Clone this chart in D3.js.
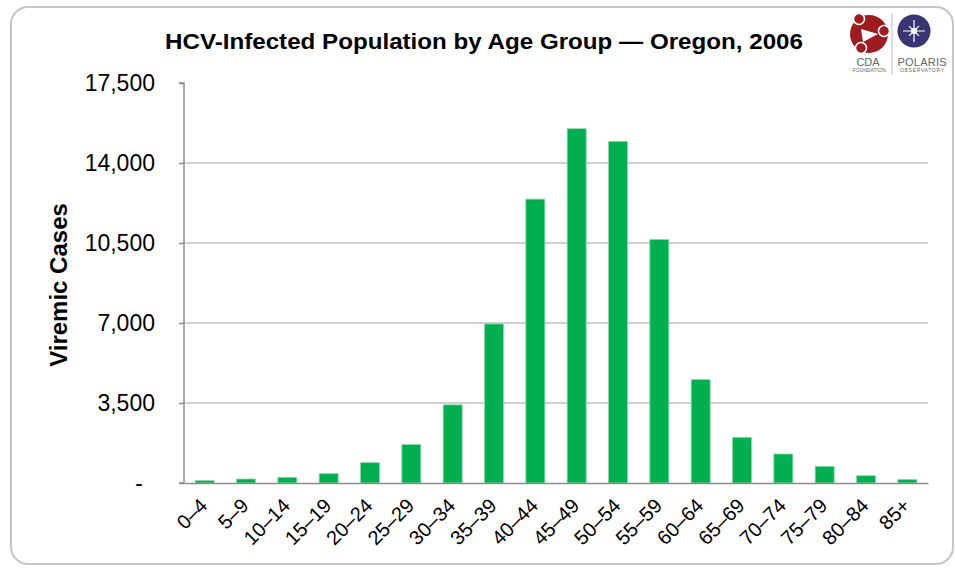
<!DOCTYPE html>
<html>
<head>
<meta charset="utf-8">
<script src="https://cdn.jsdelivr.net/npm/d3@7"></script>
<style>
  body { margin: 0; background: #fff; }
  svg { display: block; font-family: "Liberation Sans", Arial, sans-serif; }
</style>
</head>
<body>
<div class="chart"></div>
<script>

var ageGroups = ["0\u20134", "5\u20139", "10\u201314", "15\u201319", "20\u201324", "25\u201329", "30\u201334", "35\u201339",
                 "40\u201344", "45\u201349", "50\u201354", "55\u201359", "60\u201364", "65\u201369", "70\u201374", "75\u201379",
                 "80\u201384", "85+"];
var viremicCases = [110, 175, 250, 410, 890, 1680, 3420, 6960, 12420, 15500, 14950, 10660, 4530, 2000, 1270, 730, 320, 160];
var yTicks = [0, 3500, 7000, 10500, 14000, 17500];

var width = 955, height = 568;
var margin = {top: 83, right: 27, bottom: 85, left: 184};

var svg = d3.select(".chart")
  .append("svg")
    .attr("width", width)
    .attr("height", height);

// frame
svg.append("rect")
  .attr("x", 11).attr("y", 7)
  .attr("width", 942).attr("height", 557)
  .attr("rx", 17).attr("ry", 17)
  .style("fill", "#fff")
  .style("stroke", "#c6c6c6")
  .style("stroke-width", 2);

var x = d3.scaleBand()
  .domain(ageGroups)
  .range([margin.left, width - margin.right])
  .paddingInner(0.54)
  .paddingOuter(0.27);

var y = d3.scaleLinear()
  .domain([0, 17500])
  .range([height - margin.bottom, margin.top]);

// gridlines (no line at top)
svg.append("g")
  .selectAll("line")
  .data(yTicks.filter(function(d) { return d > 0 && d < 17500; }))
  .enter().append("line")
    .attr("x1", margin.left)
    .attr("x2", width - margin.right)
    .attr("y1", function(d) { return y(d); })
    .attr("y2", function(d) { return y(d); })
    .style("stroke", "#c0c0c0")
    .style("stroke-width", 1.5);

// bars
svg.append("g")
  .selectAll("rect")
  .data(ageGroups)
  .enter().append("rect")
    .attr("x", function(d) { return x(d); })
    .attr("width", x.bandwidth())
    .attr("y", function(d, i) { return y(viremicCases[i]); })
    .attr("height", function(d, i) { return y(0) - y(viremicCases[i]); })
    .style("fill", "#00b050")
    .style("stroke", "#8fdcaa")
    .style("stroke-width", 0.8);

// y axis
var yAxis = d3.axisLeft(y)
  .tickValues(yTicks)
  .tickSize(5)
  .tickFormat(function(d) { return d === 0 ? "-" : d3.format(",")(d); });

var yg = svg.append("g")
  .attr("transform", "translate(" + margin.left + ",0)")
  .call(yAxis);
yg.select(".domain").style("stroke", "#8c8c8c").style("stroke-width", 1.5)
  .attr("d", "M-5," + y(17500) + "H0V" + y(0) + "H-5");
yg.selectAll(".tick line").style("stroke", "#8c8c8c").style("stroke-width", 1.5);
yg.selectAll(".tick text")
  .attr("x", function(d) { return d === 0 ? -41 : -29; })
  .style("font-size", "23px")
  .style("fill", "#000")
  .style("font-family", "Liberation Sans, Arial, sans-serif");

// x axis
var xAxis = d3.axisBottom(x).tickSize(0);
var xg = svg.append("g")
  .attr("transform", "translate(0," + y(0) + ")")
  .call(xAxis);
xg.select(".domain").style("stroke", "#8c8c8c").style("stroke-width", 1.5);
xg.selectAll(".tick text")
  .attr("x", 0).attr("y", 0).attr("dy", 0)
  .attr("transform", "translate(-1,19) rotate(-45)")
  .style("text-anchor", "end")
  .style("dominant-baseline", "central")
  .style("font-size", "20px")
  .style("fill", "#000")
  .style("font-family", "Liberation Sans, Arial, sans-serif");

// titles
svg.append("text")
  .attr("x", 484).attr("y", 49)
  .attr("textLength", 638)
  .attr("lengthAdjust", "spacingAndGlyphs")
  .style("text-anchor", "middle")
  .style("font-size", "22px")
  .style("font-weight", "bold")
  .text("HCV-Infected Population by Age Group \u2014 Oregon, 2006");

svg.append("text")
  .attr("transform", "translate(67,285) rotate(-90)")
  .style("text-anchor", "middle")
  .style("font-size", "24px")
  .style("font-weight", "bold")
  .text("Viremic Cases");

// logos
var logo = svg.append("g");
logo.append("circle").attr("cx", 869).attr("cy", 34).attr("r", 19).style("fill", "#9e1b20");
logo.append("path")
  .attr("d", "M861,29 L878,34 L863,42 Z")
  .style("fill", "#fff");
[[859,19],[884,31],[861,48]].forEach(function(p) {
  logo.append("circle").attr("cx", p[0]).attr("cy", p[1]).attr("r", 5.5)
    .style("fill", "#9e1b20").style("stroke", "#fff").style("stroke-width", 1.5);
});
logo.append("line").attr("x1", 892).attr("x2", 892).attr("y1", 14).attr("y2", 74)
  .style("stroke", "#bbb").style("stroke-width", 1);
logo.append("circle").attr("cx", 914).attr("cy", 31).attr("r", 16.5).style("fill", "#3b3474");
var star = d3.range(8).map(function(i) {
  var a = i * Math.PI / 4, r = (i % 2 === 0) ? 11 : 7;
  return "M914,31L" + (914 + r * Math.cos(a)) + "," + (31 + r * Math.sin(a));
}).join("");
logo.append("path").attr("d", star).style("stroke", "#fff").style("stroke-width", 1.2);
logo.append("circle").attr("cx", 914).attr("cy", 31).attr("r", 3).style("fill", "#fff");

logo.append("text").attr("x", 868).attr("y", 66).style("text-anchor", "middle")
  .style("font-size", "11px").style("fill", "#666").text("CDA");
logo.append("text").attr("x", 869).attr("y", 72).attr("textLength", 33).style("text-anchor", "middle")
  .style("font-size", "5px").style("fill", "#666").text("FOUNDATION");
logo.append("text").attr("x", 922).attr("y", 66).attr("textLength", 49).style("text-anchor", "middle")
  .style("font-size", "11px").style("fill", "#666").text("POLARIS");
logo.append("text").attr("x", 922).attr("y", 72).attr("textLength", 44).style("text-anchor", "middle")
  .style("font-size", "5px").style("fill", "#666").text("OBSERVATORY");

</script>
</body>
</html>
